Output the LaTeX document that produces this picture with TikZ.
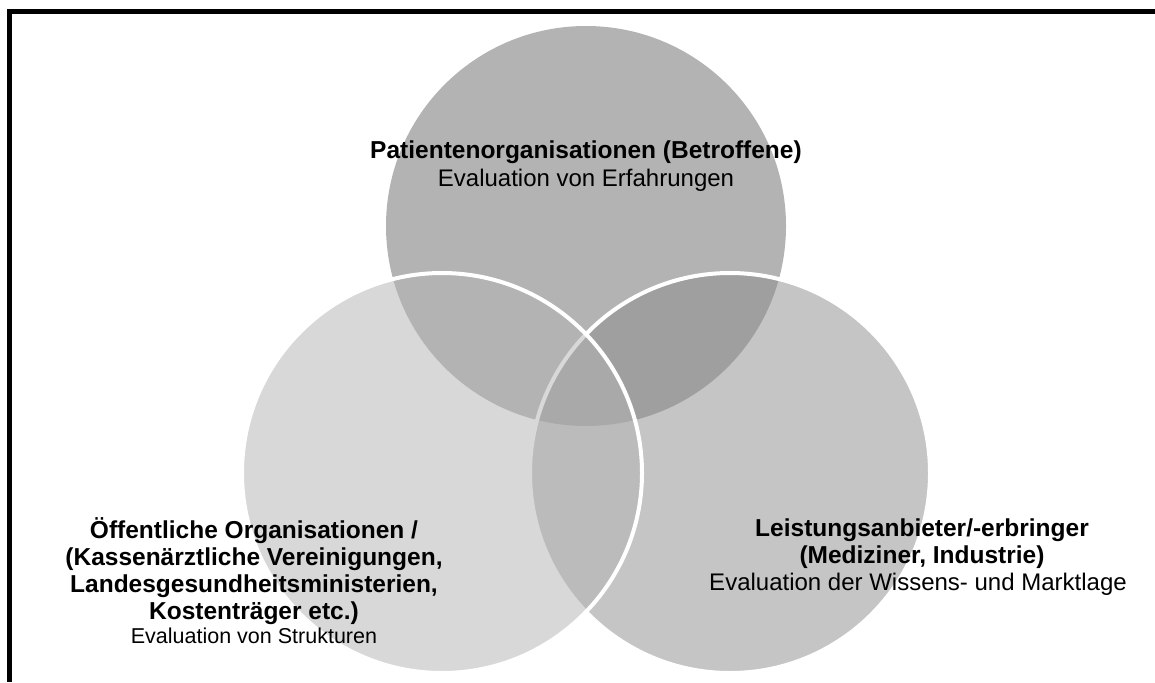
\documentclass[tikz,border=0pt]{standalone}
\usepackage{fontspec}
\setmainfont{Liberation Sans}
\definecolor{topc}{HTML}{B3B3B3}
\definecolor{rightc}{HTML}{8D8D8D}
\definecolor{leftc}{HTML}{B3B3B3}
\begin{document}
\begin{tikzpicture}[x=1pt,y=-1pt,
  boldtxt/.style={font=\fontsize{24.5}{28}\selectfont\bfseries, inner sep=0pt, anchor=base},
  regtxt/.style={font=\fontsize{24}{28}\selectfont, inner sep=0pt, anchor=base},
  smalltxt/.style={font=\fontsize{21.5}{24}\selectfont, inner sep=0pt, anchor=base},
  ring/.style={draw=white, line width=4pt}]
\useasboundingbox (0,0) rectangle (1155,682);
\fill[white] (0,0) rectangle (1155,682);
% frame
\fill[black] (7,9) rectangle (1155,14);
\fill[black] (7,9) rectangle (12,682);
% circles
\fill[topc] (586,226) circle (200);
\path[ring, fill=rightc, fill opacity=0.5] (730,473) circle (200);
\path[ring, fill=leftc, fill opacity=0.5] (442,473) circle (200);
% top texts
\node[boldtxt] (t1) at (586,158) {Patientenorganisationen (Betroffene)};
\node[regtxt] (t2) at (586,186) {Evaluation von Erfahrungen};
% left texts
\node[boldtxt] (l1) at (254,538) {Öffentliche Organisationen /};
\node[boldtxt] (l2) at (254,565) {(Kassenärztliche Vereinigungen,};
\node[boldtxt] (l3) at (254,592) {Landesgesundheitsministerien,};
\node[boldtxt] (l4) at (254,619) {Kostenträger etc.)};
\node[smalltxt] (l5) at (254,643) {Evaluation von Strukturen};
% right texts
\node[boldtxt] (r1) at (922,536) {Leistungsanbieter/-erbringer};
\node[boldtxt] (r2) at (922,563) {(Mediziner, Industrie)};
\node[regtxt] (r3) at (918,590) {Evaluation der Wissens- und Marktlage};
\end{tikzpicture}
\end{document}
